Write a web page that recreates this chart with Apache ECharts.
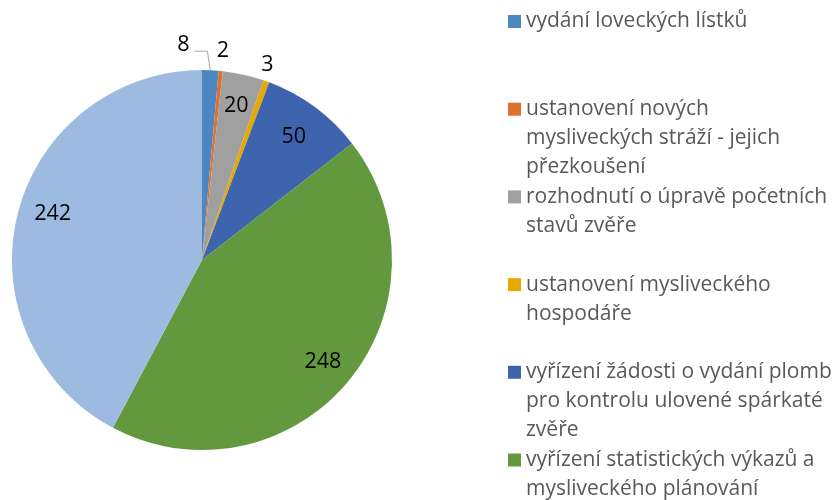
<!DOCTYPE html>
<html>
<head>
<meta charset="utf-8">
<script src="https://cdn.jsdelivr.net/npm/echarts@6/dist/echarts.min.js"></script>
<style>
  html, body { margin: 0; padding: 0; background: #ffffff; }
  #chart { width: 834px; height: 500px; }
</style>
</head>
<body>
<div id="chart"></div>
<script>
// Agenda myslivosti – počty vyřízených úkonů
const categories = [
  'vydání loveckých lístků',
  'ustanovení nových mysliveckých stráží - jejich přezkoušení',
  'rozhodnutí o úpravě početních stavů zvěře',
  'ustanovení mysliveckého hospodáře',
  'vyřízení žádosti o vydání plomb pro kontrolu ulovené spárkaté zvěře',
  'vyřízení statistických výkazů a mysliveckého plánování',
  'ostatní'
];
const values = [8, 2, 20, 3, 50, 248, 242];

// Legend text broken into lines as it is laid out in the legend column
const legendLines = [
  ['vydání loveckých lístků'],
  ['ustanovení nových', 'mysliveckých stráží - jejich', 'přezkoušení'],
  ['rozhodnutí o úpravě početních', 'stavů zvěře'],
  ['ustanovení mysliveckého', 'hospodáře'],
  ['vyřízení žádosti o vydání plomb', 'pro kontrolu ulovené spárkaté', 'zvěře'],
  ['vyřízení statistických výkazů a', 'mysliveckého plánování']
];

const colors = ['#4d87c2', '#dd7230', '#a0a0a0', '#e4aa00', '#3e64ae', '#63993e', '#9dbbe0'];

// slices labelled outside the pie / inside the pie
const outsideIdx = [0, 1, 3];
const insideIdx = [2, 4, 5, 6];

const FONT = '"Open Sans", "Noto Sans", sans-serif';
const CENTER = [202, 260];
const RADIUS = 190;

const legendCommon = {
  orient: 'vertical',
  left: 508,
  padding: 0,
  itemWidth: 13,
  itemHeight: 13,
  selectedMode: false,
  textStyle: { color: '#595959', fontSize: 21, fontFamily: FONT, lineHeight: 29 }
};

const legends = [];
const FIRST_ROW = 21.5, ROW_STEP = 87.7;
legendLines.forEach((lines, i) => {
  const c = FIRST_ROW + i * ROW_STEP;
  legends.push(Object.assign({}, legendCommon, {
    top: c - 14.5,
    icon: 'rect',
    data: [categories[i]],
    formatter: () => lines[0]
  }));
  if (lines.length > 1) {
    legends.push(Object.assign({}, legendCommon, {
      top: c + 14.5,
      icon: 'none',
      data: [categories[i]],
      formatter: () => lines.slice(1).join('\n')
    }));
  }
});

const labelText = { color: '#000000', fontSize: 21.5, fontFamily: FONT, formatter: '{c}' };

const chart = echarts.init(document.getElementById('chart'), null, { renderer: 'canvas' });
chart.setOption({
  animation: false,
  color: colors,
  legend: legends,
  series: [
    {
      // the pie itself, with the small slices labelled outside
      type: 'pie',
      center: CENTER,
      radius: [0, RADIUS],
      startAngle: 90,
      clockwise: true,
      avoidLabelOverlap: false,
      silent: true,
      emphasis: { disabled: true },
      label: Object.assign({ position: 'outside' }, labelText),
      labelLine: { length: 21, length2: 0, lineStyle: { color: '#a6a6a6', width: 1 } },
      data: categories.map((name, i) => ({
        name,
        value: values[i],
        label: { show: outsideIdx.includes(i) },
        labelLine: { show: outsideIdx.includes(i), lineStyle: { opacity: i === 0 ? 1 : 0 } }
      })),
      labelLayout: function (params) {
        const pts = params.labelLinePoints;
        if (!pts) return;
        const p0 = pts[0], p1 = pts[1];
        if (params.dataIndex === 0) {
          // leader line bends up and to the left of the narrow slice
          return {
            x: p0[0] - 27, y: p0[1] - 25, align: 'center', verticalAlign: 'middle',
            labelLinePoints: [[p0[0], p0[1]], [p0[0] - 3, p0[1] - 19], [p0[0] - 16, p0[1] - 19]]
          };
        }
        if (params.dataIndex === 3) {
          return { x: p1[0] - 6, y: p1[1] + 3, align: 'center', verticalAlign: 'middle' };
        }
        return { x: p1[0], y: p1[1] + 1, align: 'center', verticalAlign: 'middle' };
      }
    },
    {
      // transparent ring carrying the labels of the large slices
      type: 'pie',
      center: CENTER,
      radius: [120, RADIUS],
      startAngle: 90,
      clockwise: true,
      silent: true,
      avoidLabelOverlap: false,
      emphasis: { disabled: true },
      itemStyle: { color: 'rgba(0,0,0,0)' },
      label: Object.assign({ position: 'inside' }, labelText),
      labelLine: { show: false },
      data: categories.map((name, i) => ({
        name,
        value: values[i],
        label: { show: insideIdx.includes(i) }
      })),
      labelLayout: function (params) {
        if (params.dataIndex === 6) return { dx: 4, dy: -8 };
        if (params.dataIndex === 4) return { dx: -2, dy: 4 };
      }
    }
  ]
});
</script>
</body>
</html>
